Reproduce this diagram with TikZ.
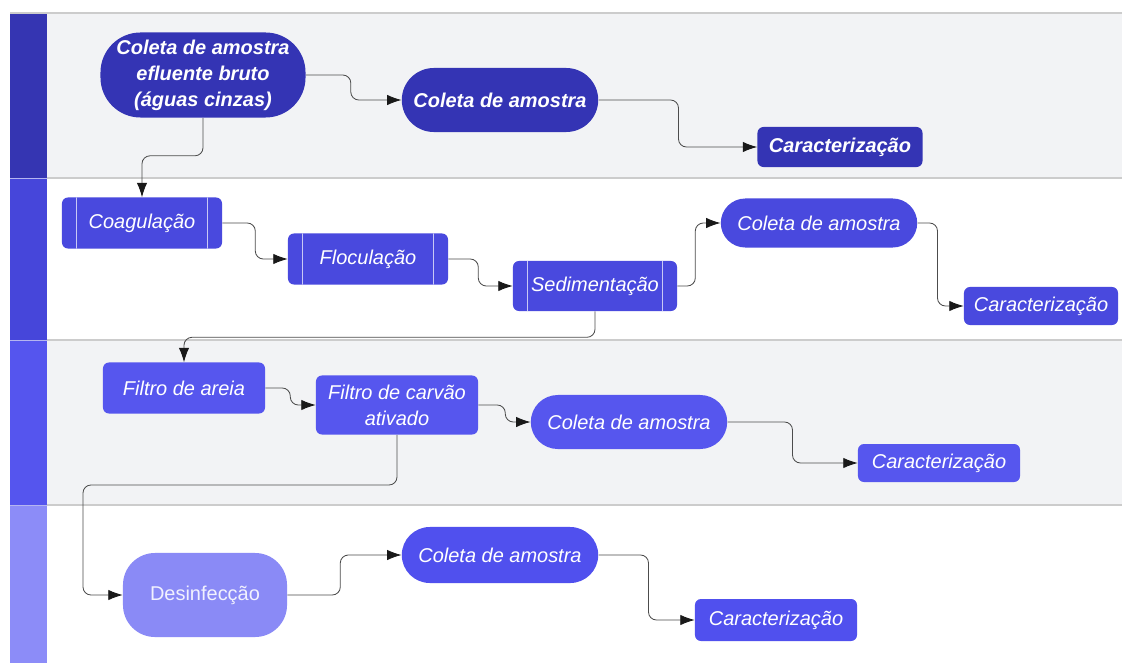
\documentclass[tikz,border=0pt]{standalone}
\usepackage{fontspec}
\setmainfont{Liberation Sans}
\usetikzlibrary{backgrounds,shapes.misc,arrows.meta}

\definecolor{hdA}{HTML}{3535B2}
\definecolor{hdB}{HTML}{4646DA}
\definecolor{hdC}{HTML}{5555EE}
\definecolor{hdD}{HTML}{8C8CF8}
\definecolor{lanegrey}{HTML}{F2F3F5}
\definecolor{nodeA}{HTML}{3434B4}
\definecolor{nodeB}{HTML}{4949DE}
\definecolor{nodeC}{HTML}{5656EE}
\definecolor{nodeD}{HTML}{5050EE}
\definecolor{nodeDis}{HTML}{8A8AF6}

\begin{document}
\begin{tikzpicture}[x=0.025cm,y=-0.025cm]
    % `process' is used for the plain steps, `sub' adds the two inner bars.
    % `sample' is used for the rounded sampling steps.
    % `flow' is used for the connectors, `lane' for the lane borders.
    \tikzstyle{base} = [text=white,font=\fontsize{14.2}{18.5}\selectfont\itshape,align=center,inner sep=2pt]
    \tikzstyle{boldtext} = [font=\fontsize{14.2}{18.5}\selectfont\bfseries\itshape]
    \tikzstyle{process} = [base,rectangle,rounded corners=1.5mm]
    \tikzstyle{sub} = [process,path picture={
        \draw[white!70!nodeB,thin]
          ([xshift=3.6mm]path picture bounding box.north west) -- ([xshift=3.6mm]path picture bounding box.south west)
          ([xshift=-3.6mm]path picture bounding box.north east) -- ([xshift=-3.6mm]path picture bounding box.south east);}]
    \tikzstyle{sample} = [base,rounded rectangle]
    \tikzstyle{flow} = [draw=black!70,semithick,rounded corners=2mm,-{Latex[length=3.6mm,width=2.6mm,color=black!90]}]
    \tikzstyle{lane} = [draw=black!20,line width=1.2pt]
    %
    \useasboundingbox (0,0) rectangle (1122,663);
    %
    % Lane 1: raw effluent.
    \node[process,boldtext,fill=nodeA,rounded corners=1cm,minimum width=5.125cm,minimum height=2.125cm] (raw) at (203,75)
      {Coleta de amostra\\efluente bruto\\(águas cinzas)};
    \node[sample,boldtext,fill=nodeA,minimum width=5.05cm,minimum height=1.6cm] (sampA) at (500,100) {Coleta de amostra};
    \node[process,boldtext,fill=nodeA,minimum width=4.125cm,minimum height=1cm] (charA) at (840,147) {Caracterização};
    % Lane 2: physico-chemical treatment.
    \node[sub,fill=nodeB,minimum width=4cm,minimum height=1.275cm] (coag) at (142,223) {Coagulação};
    \node[sub,fill=nodeB,minimum width=4cm,minimum height=1.275cm] (floc) at (368,259) {Floculação};
    \node[sub,fill=nodeB,minimum width=4.1cm,minimum height=1.25cm] (sed) at (595,286) {Sedimentação};
    \node[sample,fill=nodeB,minimum width=5.05cm,minimum height=1.225cm] (sampB) at (819,223) {Coleta de amostra};
    \node[process,fill=nodeB,minimum width=3.85cm,minimum height=0.95cm] (charB) at (1041,306) {Caracterização};
    % Lane 3: filtration.
    \node[process,fill=nodeC,minimum width=4.05cm,minimum height=1.275cm] (sand) at (184,388) {Filtro de areia};
    \node[process,fill=nodeC,minimum width=4.05cm,minimum height=1.475cm] (carb) at (397,405) {Filtro de carvão\\ativado};
    \node[sample,fill=nodeC,minimum width=5.05cm,minimum height=1.35cm] (sampC) at (629,422) {Coleta de amostra};
    \node[process,fill=nodeC,minimum width=4.05cm,minimum height=0.95cm] (charC) at (939,463) {Caracterização};
    % Lane 4: disinfection.
    \node[process,fill=nodeDis,text=white!88!nodeDis,font=\fontsize{14.2}{18.5}\selectfont,rounded corners=8mm,minimum width=4.1cm,minimum height=2.1cm] (dis) at (205,595) {Desinfecção};
    \node[sample,fill=nodeD,minimum width=5.05cm,minimum height=1.4cm] (sampD) at (500,555) {Coleta de amostra};
    \node[process,fill=nodeD,minimum width=4.05cm,minimum height=1.05cm] (charD) at (776,620) {Caracterização};
    %
    \coordinate (drop) at (83,485);
    \begin{pgfonlayer}{background}
        % Draw lanes.
        \fill[white] (0,0) rectangle (1122,663);
        \fill[lanegrey] (47,13) rectangle (1122,178);
        \fill[lanegrey] (47,340) rectangle (1122,505);
        \fill[hdA] (10,13) rectangle (47,178);
        \fill[hdB] (10,178) rectangle (47,340);
        \fill[hdC] (10,340) rectangle (47,505);
        \fill[hdD] (10,505) rectangle (47,663);
        \draw[lane] (10,13) -- (1122,13);
        \draw[lane] (47,178) -- (1122,178)  (47,340) -- (1122,340)  (47,505) -- (1122,505);
        \draw[white!60!hdB,thin] (10,178) -- (47,178)  (10,340) -- (47,340)  (10,505) -- (47,505);
        % Draw connectors.
        \draw[flow] (raw.east) -- ++(45,0) |- (sampA.west);
        \draw[flow] (sampA.east) -- ++(80,0) |- (charA.west);
        \draw[flow] (raw.south) -- ++(0,38) -| (coag.north);
        \draw[flow] (coag.east) -- ++(33,0) |- (floc.west);
        \draw[flow] (floc.east) -- ++(30,0) |- (sed.west);
        \draw[flow] (sed.east) -- ++(18,0) |- (sampB.west);
        \draw[flow] (sampB.east) -- ++(20,0) |- (charB.west);
        \draw[flow] (sed.south) -- ++(0,26) -| (sand.north);
        \draw[flow] (sand.east) -- ++(25,0) |- (carb.west);
        \draw[flow] (carb.east) -- ++(27,0) |- (sampC.west);
        \draw[flow] (sampC.east) -- ++(65,0) |- (charC.west);
        \draw[flow] (carb.south) |- (drop) |- (dis.west);
        \draw[flow] (dis.east) -- ++(53,0) |- (sampD.west);
        \draw[flow] (sampD.east) -- ++(50,0) |- (charD.west);
    \end{pgfonlayer}
\end{tikzpicture}
\end{document}
